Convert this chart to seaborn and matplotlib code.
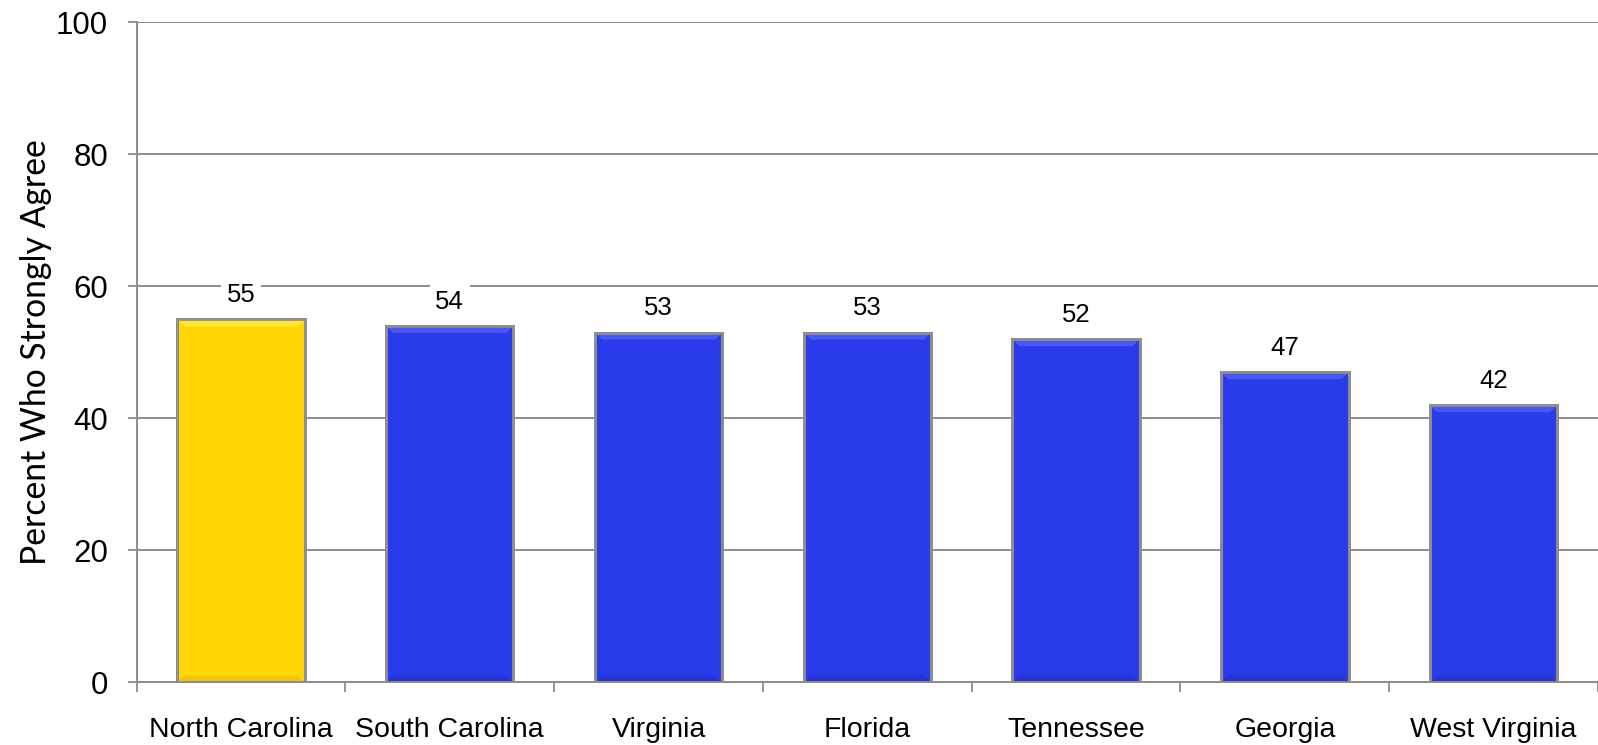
import matplotlib
matplotlib.use("Agg")
import matplotlib.pyplot as plt
import seaborn as sns
import pandas as pd
from matplotlib.patches import Polygon
from matplotlib.ticker import FixedLocator, NullFormatter

states = ["North Carolina", "South Carolina", "Virginia", "Florida",
          "Tennessee", "Georgia", "West Virginia"]
percent_agree = [55, 54, 53, 53, 52, 47, 42]
bar_colors = ["#FFD606", "#2A3BEC", "#2A3BEC", "#2A3BEC",
              "#2A3BEC", "#2A3BEC", "#2A3BEC"]
y_ticks = [0, 20, 40, 60, 80, 100]

sns.set_theme(style="white")
plt.rcParams["font.family"] = ["Liberation Sans", "DejaVu Sans"]

df = pd.DataFrame({"state": states, "pct": percent_agree})

fig = plt.figure(figsize=(15.98, 7.45), dpi=100)
ax = fig.add_axes([0.0855, 0.0839, 0.9145, 0.8861])

grid_col = "#8C8C8C"
ax.set_ylim(0, 100)
ax.set_xlim(-0.5, len(states) - 0.5)
ax.set_yticks(y_ticks)
ax.yaxis.grid(True, color=grid_col, linewidth=1.4, zorder=0)
ax.set_axisbelow(True)

sns.barplot(data=df, x="state", y="pct", hue="state", palette=bar_colors,
            legend=False, width=0.61, saturation=1, ax=ax,
            edgecolor="#8E8E8E", linewidth=2.0, zorder=3)
ax.set_xlim(-0.5, len(states) - 0.5)
ax.set_ylim(0, 100)

# bevelled look: light top edge, darker bottom edge, computed from each bar
fig.canvas.draw()
px_x = ax.transData.transform((1, 0))[0] - ax.transData.transform((0, 0))[0]
px_y = ax.transData.transform((0, 1))[1] - ax.transData.transform((0, 0))[1]
inset_x = 7 / px_x
inset_y = 7 / px_y
light = {"#FFD606": "#FFE440", "#2A3BEC": "#4A58EE"}
dark = {"#FFD606": "#F0C600", "#2A3BEC": "#2534D4"}
for patch, col in zip(ax.patches, bar_colors):
    x0, y0 = patch.get_x(), patch.get_y()
    w, h = patch.get_width(), patch.get_height()
    x1, y1 = x0 + w, y0 + h
    top = Polygon([(x0, y1), (x1, y1), (x1 - inset_x, y1 - inset_y),
                   (x0 + inset_x, y1 - inset_y)], closed=True,
                  facecolor=light[col], edgecolor="none", zorder=3.5)
    bottom = Polygon([(x0, y0), (x1, y0), (x1 - inset_x, y0 + inset_y),
                      (x0 + inset_x, y0 + inset_y)], closed=True,
                     facecolor=dark[col], edgecolor="none", zorder=3.5)
    ax.add_patch(top)
    ax.add_patch(bottom)
    edge = Polygon([(x0, y0), (x0, y1), (x1, y1), (x1, y0)], closed=True,
                   facecolor="none", edgecolor="#8E8E8E", linewidth=2.0,
                   zorder=3.6)
    ax.add_patch(edge)

for cont in ax.containers:
    ax.bar_label(cont, fmt="%.0f", padding=9, fontsize=18.5, color="black",
                 bbox=dict(facecolor="white", edgecolor="none", pad=4),
                 zorder=5)

# axis styling
for side in ["top", "right"]:
    ax.spines[side].set_visible(False)
for side in ["left", "bottom"]:
    ax.spines[side].set_color(grid_col)
    ax.spines[side].set_linewidth(1.4)
    ax.spines[side].set_zorder(4)

ax.tick_params(axis="y", which="major", left=True, length=6.5, width=1.3,
               color=grid_col, pad=14, labelsize=22.5, labelcolor="black")
ax.set_yticklabels([str(t) for t in y_ticks])

# category ticks between bars, labels centred under bars
ax.xaxis.set_minor_locator(FixedLocator([i - 0.5 for i in range(len(states) + 1)]))
ax.xaxis.set_minor_formatter(NullFormatter())
ax.tick_params(axis="x", which="minor", bottom=True, length=7, width=1.3,
               color=grid_col)
ax.tick_params(axis="x", which="major", bottom=False, length=0, pad=25)
ax.set_xticks(range(len(states)))
ax.set_xticklabels(states, fontsize=20.5, color="black")

ax.set_xlabel("")
ax.set_ylabel("Percent Who Strongly Agree", fontsize=24.3,
              family=["Lato", "DejaVu Sans"], color="black",
              labelpad=3)

fig.savefig("out.png", dpi=100)
